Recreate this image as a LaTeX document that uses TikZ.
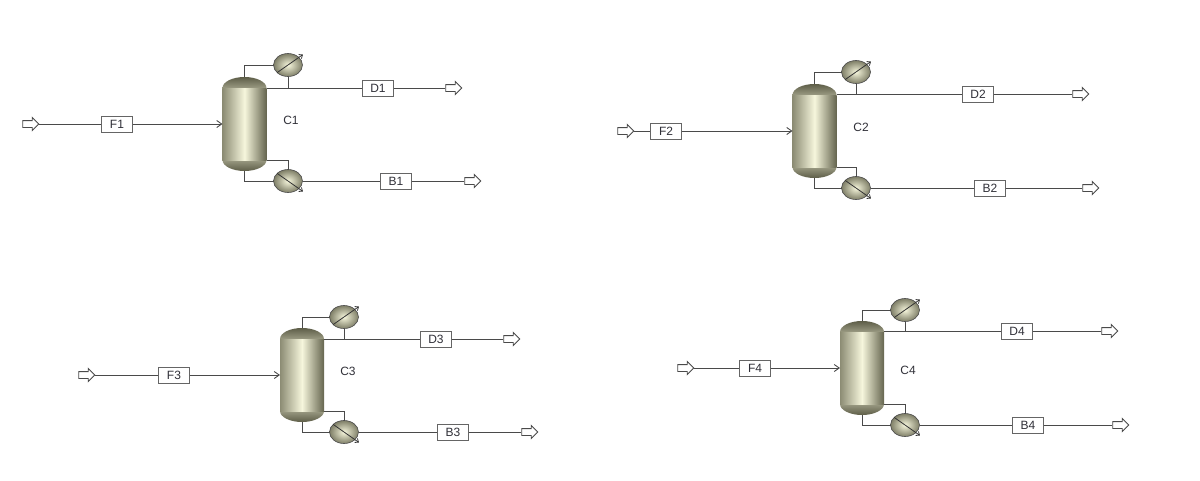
\documentclass[tikz,border=0pt]{standalone}
\usepackage{fontspec}
\setmainfont{Liberation Sans}
\usepackage{tikz}
\usetikzlibrary{arrows.meta,shapes.geometric,shapes.arrows}
\definecolor{pipegray}{HTML}{4A4A4A}
\definecolor{vesseldark}{HTML}{5E5E48}
\definecolor{vesselmid}{HTML}{8C8C74}
\definecolor{vessellight}{HTML}{F6F6DC}
\definecolor{labelink}{HTML}{303038}
\tikzset{
  pipe/.style={draw=pipegray,line width=0.9pt},
  tagbox/.style={draw=pipegray!85,line width=1pt,fill=white,inner sep=0pt,minimum height=16pt,
    minimum width=31pt,font=\fontsize{12}{12}\selectfont,text=labelink},
  port/.style={single arrow,draw=pipegray,line width=0.9pt,fill=white,inner xsep=0pt,inner ysep=3pt,
    minimum height=16pt,minimum width=12pt,single arrow head extend=3pt,single arrow head indent=0pt},
  shell/.style={inner sep=0pt,outer sep=0pt,minimum width=44pt,minimum height=72pt,left color=vesselmid,
    right color=vesseldark!85!vesselmid,middle color=vessellight},
  captop/.style={ellipse,inner sep=0pt,outer sep=0pt,minimum width=44pt,minimum height=22pt,
    top color=vesseldark,bottom color=vessellight!70!vesselmid},
  capbot/.style={ellipse,inner sep=0pt,outer sep=0pt,minimum width=44pt,minimum height=22pt,
    top color=vessellight!70!vesselmid,bottom color=vesseldark},
  exchanger/.style={ellipse,draw=pipegray,line width=0.6pt,inner sep=0pt,outer sep=0pt,minimum width=29pt,
    minimum height=23pt,inner color=vessellight,outer color=vesselmid!70!vesseldark},
  tube/.style={draw=black!80,line width=0.8pt,shorten >=-5pt,-{Straight Barb[length=3pt,width=5pt]}},
  tag/.style={font=\fontsize{12}{12}\selectfont,text=labelink}
}
\begin{document}
\begin{tikzpicture}[x=1pt,y=-1pt]
  \useasboundingbox (0,0) rectangle (1200,480);
  % One column block per row: number, column, label, exchangers, feed, distillate, bottoms
  \foreach \n/\cx/\cy/\lx/\ly/\ex/\ey/\ry/\fa/\fx/\dx/\dy/\da/\bx/\by/\ba in {
    1/244.5/124/291/120/288/65/181/29/117/378/88/452/396/181/471,
    2/814.5/131/861/127/856/72/188/624/666/978/94/1079/990/188/1089,
    3/302/375/348/371/344/317/432/85/174/436/339/510/453/432/528,
    4/862/368/908/370/905/310/425/684/755/1017/331/1108/1028/425/1119} {
    % Vessel
    \node[captop] (top\n) at (\cx,\cy-36) {};
    \node[capbot] (bot\n) at (\cx,\cy+36) {};
    \node[shell] (col\n) at (\cx,\cy) {};
    \node[tag] (lab\n) at (\lx,\ly) {C\n};
    % Condenser and reboiler
    \node[exchanger] (cond\n) at (\ex,\ey) {};
    \node[exchanger] (reb\n) at (\ex,\ry) {};
    \draw[tube] (cond\n.215) -- (cond\n.35);
    \draw[tube] (reb\n.145) -- (reb\n.325);
    % Stream tags and ports
    \node[port] (feed\n) at (\fa,\cy) {};
    \node[tagbox] (fbox\n) at (\fx,\cy) {F\n};
    \node[tagbox] (dbox\n) at (\dx,\dy) {D\n};
    \node[tagbox] (bbox\n) at (\bx,\by) {B\n};
    \node[port] (dout\n) at (\da,\dy) {};
    \node[port] (bout\n) at (\ba,\by) {};
    \coordinate (over\n) at (col\n.north east |- dbox\n.west);
    % Streams
    \draw[pipe] (feed\n.tip) -- (fbox\n.west);
    \draw[pipe,-{Straight Barb[length=5pt,width=7pt]}] (fbox\n.east) -- (col\n.west);
    \draw[pipe] (top\n.north) |- (cond\n.west);
    \draw[pipe] (cond\n.south) -- (cond\n.south |- over\n);
    \draw[pipe] (over\n) -- (dbox\n.west);
    \draw[pipe] (dbox\n.east) -- (dout\n.tail);
    \draw[pipe] (col\n.south east) -| (reb\n.north);
    \draw[pipe] (bot\n.south) |- (reb\n.west);
    \draw[pipe] (reb\n.east) -- (bbox\n.west);
    \draw[pipe] (bbox\n.east) -- (bout\n.tail);
  }
\end{tikzpicture}
\end{document}
